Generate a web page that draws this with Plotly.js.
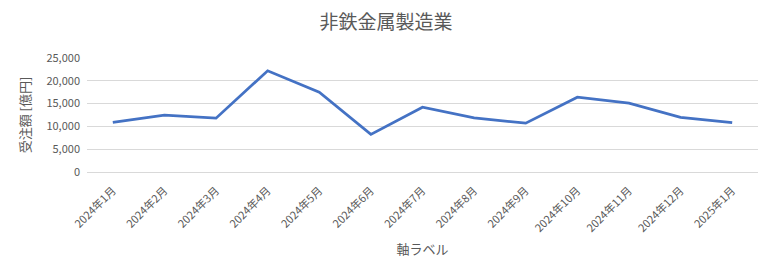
<!DOCTYPE html>
<html><head><meta charset="utf-8">
<script src="https://cdn.plot.ly/plotly-3.0.1.min.js"></script>
<style>html,body{margin:0;padding:0;background:#fff}#chart{width:772px;height:280px}</style>
</head><body><div id="chart"></div>
<script>
const months = ["2024年1月","2024年2月","2024年3月","2024年4月","2024年5月","2024年6月","2024年7月","2024年8月","2024年9月","2024年10月","2024年11月","2024年12月","2025年1月"];
const orders = [10900, 12450, 11800, 22200, 17500, 8250, 14200, 11850, 10700, 16400, 15100, 12000, 10850];
const yTicks = [0, 5000, 10000, 15000, 20000, 25000];
const yTickText = ["0","5,000","10,000","15,000","20,000","25,000"];

const font = "'Noto Sans CJK JP', 'Noto Sans', sans-serif";
Plotly.newPlot('chart', [{
  x: months, y: orders, type: 'scatter', mode: 'lines',
  line: {color: '#4472C4', width: 2.75},
  hoverinfo: 'skip'
}], {
  width: 772, height: 280,
  margin: {l: 87, r: 14, t: 58, b: 108},
  paper_bgcolor: '#fff', plot_bgcolor: '#fff',
  font: {family: font, color: '#595959', size: 11},
  showlegend: false,
  title: {text: '非鉄金属製造業', font: {family: font, size: 19, color: '#595959'}, x: 0.5, xanchor: 'center', y: 0.92, yanchor: 'middle'},
  xaxis: {
    type: 'category', range: [-0.5, 12.5], showgrid: false, zeroline: false,
    showline: false, ticks: '', tickangle: -45, ticklabelstandoff: 9, tickfont: {size: 11, color: '#595959'},
    title: {text: '軸ラベル', font: {size: 13, color: '#595959'}, standoff: 10},
    automargin: false
  },
  yaxis: {
    range: [0, 25000], tickvals: yTicks, ticktext: yTickText,
    showgrid: true, gridcolor: '#D9D9D9', gridwidth: 1, zeroline: true, zerolinecolor: '#D9D9D9',
    showline: false, ticks: '', ticklabelstandoff: 6, tickfont: {size: 11, color: '#595959'},
    title: {text: '受注額 [億円]', font: {size: 13, color: '#595959'}, standoff: 12},
    automargin: false
  }
}, {displayModeBar: false, staticPlot: true});
</script></body></html>
